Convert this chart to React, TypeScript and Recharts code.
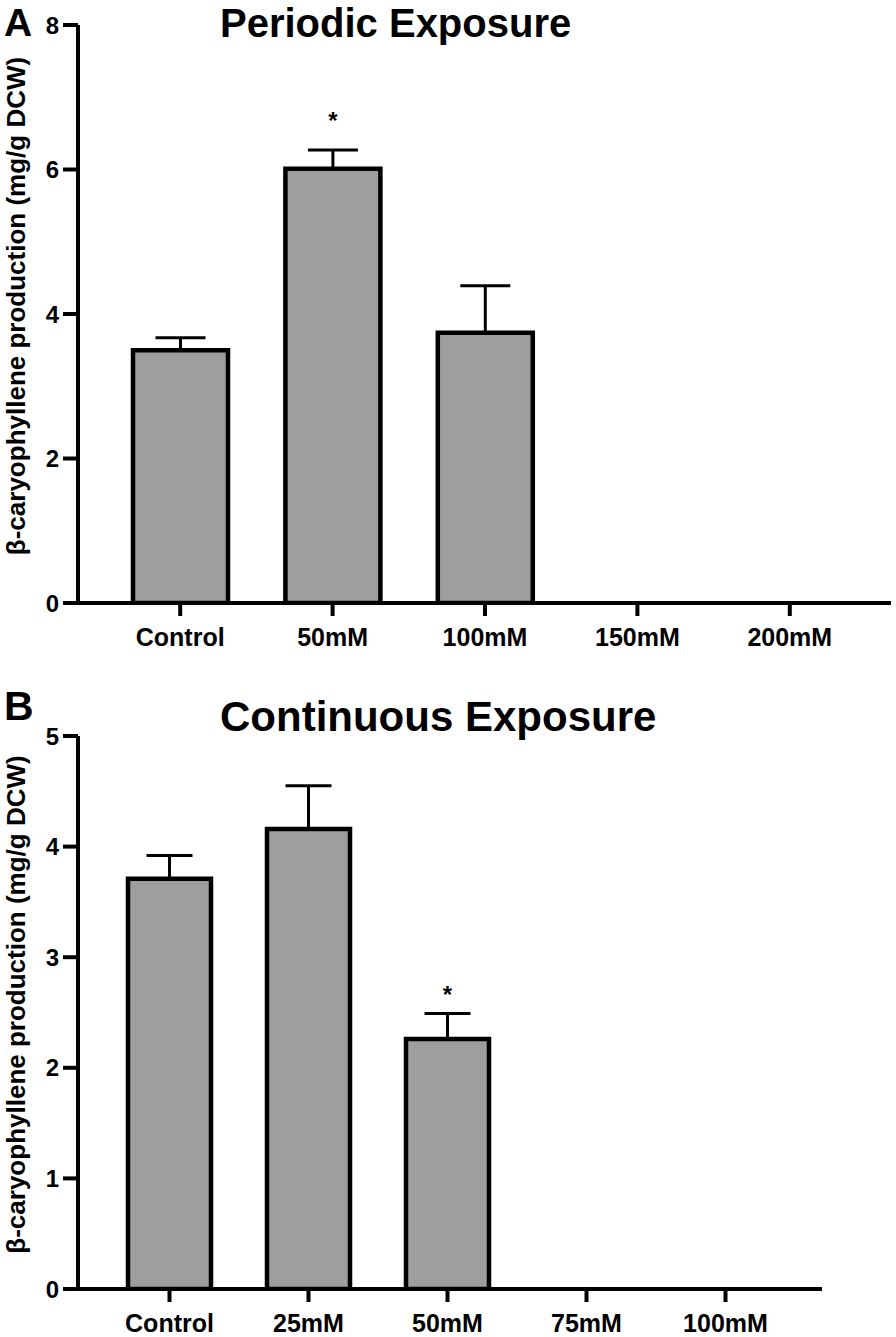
import React from 'react';
import { BarChart, Bar, XAxis, YAxis, ErrorBar, LabelList, Label } from 'recharts';

// Panel A - periodic exposure
const periodicCategories = ['Control', '50mM', '100mM', '150mM', '200mM'];
const periodicMeans = [3.5, 6.01, 3.74, null, null];
const periodicErrors = [0.17, 0.26, 0.65, null, null];
const periodicStars = ['', '*', '', '', ''];
const periodicTicks = [0, 2, 4, 6, 8];

// Panel B - continuous exposure
const continuousCategories = ['Control', '25mM', '50mM', '75mM', '100mM'];
const continuousMeans = [3.71, 4.16, 2.26, null, null];
const continuousErrors = [0.21, 0.39, 0.23, null, null];
const continuousStars = ['', '', '*', '', ''];
const continuousTicks = [0, 1, 2, 3, 4, 5];

const FONT = '"Liberation Sans", Arial, Helvetica, sans-serif';
const YLABEL = 'β-caryophyllene production (mg/g DCW)';

function buildRows(cats: string[], means: (number | null)[], errs: (number | null)[], stars: string[]) {
  return cats.map((name, i) => ({
    name,
    mean: means[i],
    err: errs[i] == null ? null : [0, errs[i] as number],
    star: stars[i],
  }));
}

const starContent = (means: (number | null)[], errs: (number | null)[], offset: number) => (props: any) => {
  const { index, value } = props;
  if (!value) return null;
  const vb = props.viewBox ?? props;
  const { x, y, width, height } = vb;
  const m = means[index];
  const e = errs[index];
  if (m == null || e == null) return null;
  const top = Math.min(y, y + height);
  const capY = top - (e * Math.abs(height)) / m;
  return (
    <text x={x + width / 2} y={capY - offset + 14} textAnchor="middle" fontSize={24} fontWeight="bold" fontFamily={FONT} fill="#000">
      {value}
    </text>
  );
};

const yLabelContent = (props: any) => {
  const vb = props.viewBox;
  const cx = 25;
  const cy = vb.y + vb.height / 2 - 8;
  return (
    <text
      x={cx}
      y={cy}
      transform={`rotate(-90, ${cx}, ${cy})`}
      textAnchor="middle"
      fontSize={26}
      fontWeight="bold"
      fontFamily={FONT}
      fill="#000"
    >
      {YLABEL}
    </text>
  );
};

type PanelProps = {
  rows: any[];
  ticks: number[];
  max: number;
  width: number;
  height: number;
  margin: { top: number; right: number; left: number; bottom: number };
  xHeight: number;
  padding: { left: number; right: number };
  barSize: number;
  capHalf: number;
  means: (number | null)[];
  errs: (number | null)[];
  starOffset: number;
};

function Panel(p: PanelProps) {
  const tickStyle = { fontSize: 25, fontWeight: 'bold', fill: '#000', fontFamily: FONT };
  return (
    <BarChart width={p.width} height={p.height} data={p.rows} margin={p.margin}>
      <XAxis
        dataKey="name"
        height={p.xHeight}
        padding={p.padding}
        axisLine={{ stroke: '#000', strokeWidth: 4 }}
        tickLine={{ stroke: '#000', strokeWidth: 4 }}
        tickSize={13}
        tickMargin={12}
        tick={tickStyle}
        interval={0}
      />
      <YAxis
        width={78}
        domain={[0, p.max]}
        ticks={p.ticks}
        axisLine={{ stroke: '#000', strokeWidth: 4 }}
        tickLine={{ stroke: '#000', strokeWidth: 4 }}
        tickSize={15}
        tickMargin={4}
        tick={{ ...tickStyle, fontSize: 24 }}
        allowDataOverflow
      >
        <Label content={yLabelContent} />
      </YAxis>
      <Bar dataKey="mean" fill="#9e9e9e" stroke="#000" strokeWidth={4.5} barSize={p.barSize} isAnimationActive={false}>
        <ErrorBar dataKey="err" direction="y" width={p.capHalf} stroke="#000" strokeWidth={3} isAnimationActive={false} />
        <LabelList dataKey="star" content={starContent(p.means, p.errs, p.starOffset)} />
      </Bar>
    </BarChart>
  );
}

export default function App() {
  const rowsA = buildRows(periodicCategories, periodicMeans, periodicErrors, periodicStars);
  const rowsB = buildRows(continuousCategories, continuousMeans, continuousErrors, continuousStars);
  return (
    <div style={{ position: 'absolute', left: 0, top: 0, width: 896, height: 1337, background: '#fff', overflow: 'hidden' }}>
      <svg width={896} height={1337} style={{ position: 'absolute', left: 0, top: 0 }}>
        <text x={4} y={36} fontSize={39} fontWeight="bold" fontFamily={FONT} fill="#000">A</text>
        <text x={220} y={37} fontSize={40} fontWeight="bold" fontFamily={FONT} fill="#000">Periodic Exposure</text>
        <text x={4} y={720} fontSize={41} fontWeight="bold" fontFamily={FONT} fill="#000">B</text>
        <text x={220} y={731} fontSize={42} fontWeight="bold" fontFamily={FONT} fill="#000">Continuous Exposure</text>
      </svg>
      <div style={{ position: 'absolute', left: 0, top: 0 }}>
        <Panel
          rows={rowsA}
          ticks={periodicTicks}
          max={8}
          width={896}
          height={660}
          margin={{ top: 25, right: 5, left: 0, bottom: 0 }}
          xHeight={57}
          padding={{ left: 26, right: 25 }}
          barSize={95}
          capHalf={25}
          means={periodicMeans}
          errs={periodicErrors}
          starOffset={35}
        />
      </div>
      <div style={{ position: 'absolute', left: 0, top: 700 }}>
        <Panel
          rows={rowsB}
          ticks={continuousTicks}
          max={5}
          width={896}
          height={637}
          margin={{ top: 36, right: 74, left: 0, bottom: 0 }}
          xHeight={48}
          padding={{ left: 22, right: 27 }}
          barSize={83}
          capHalf={23}
          means={continuousMeans}
          errs={continuousErrors}
          starOffset={25}
        />
      </div>
    </div>
  );
}
